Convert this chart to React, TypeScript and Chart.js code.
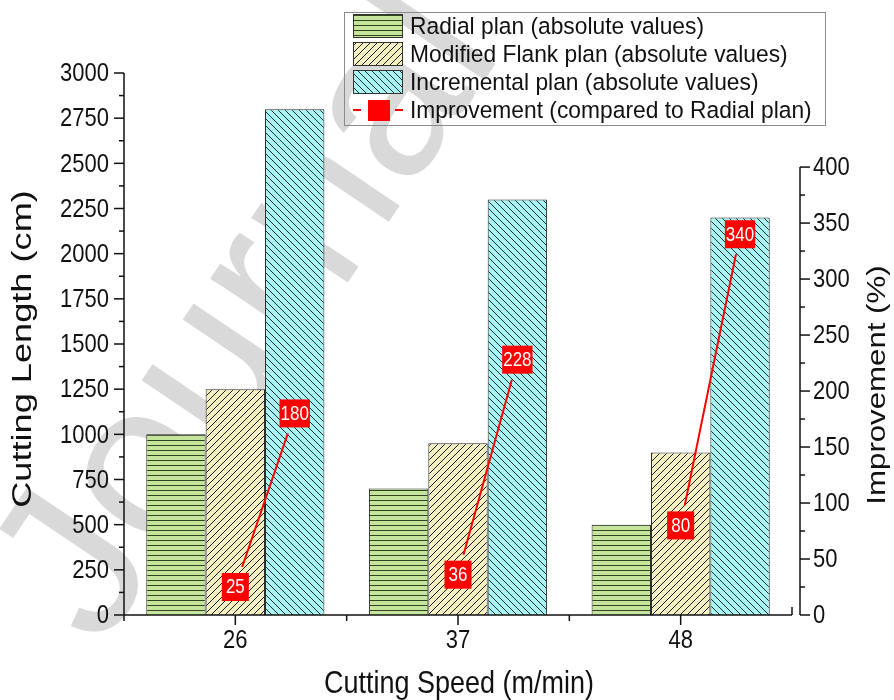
import React, { useEffect, useRef } from 'react';
import { Chart, registerables } from 'chart.js';

Chart.register(...registerables);

// ---------- data ----------
const speeds = [26, 37, 48];
const radial = [1000, 700, 500];
const modifiedFlank = [1250, 950, 900];
const incremental = [2800, 2300, 2200];
const improvementAtFlank = [25, 36, 80];
const improvementAtIncremental = [180, 228, 340];

const leftTicks = [0, 250, 500, 750, 1000, 1250, 1500, 1750, 2000, 2250, 2500, 2750, 3000];
const rightTicks = [0, 50, 100, 150, 200, 250, 300, 350, 400];

const seriesNames = [
  'Radial plan (absolute values)',
  'Modified Flank plan (absolute values)',
  'Incremental plan (absolute values)',
  'Improvement (compared to Radial plan)',
];
const xTitle = 'Cutting Speed (m/min)';
const yTitle = 'Cutting Length (cm)';
const y2Title = 'Improvement (%)';
const watermark = 'Journal Pre-proof';

const FONT = "'Liberation Sans', Arial, Helvetica, sans-serif";
const CAT_PCT = 0.8;

function makePattern(kind: 'h' | 'f' | 'b', bg: string, fg: string): CanvasPattern | string {
  const s = kind === 'h' ? 5 : 7;
  const c = document.createElement('canvas');
  c.width = s;
  c.height = s;
  const g = c.getContext('2d');
  if (!g) return bg;
  g.fillStyle = bg;
  g.fillRect(0, 0, s, s);
  g.strokeStyle = fg;
  g.lineWidth = 1;
  g.beginPath();
  if (kind === 'h') {
    g.moveTo(0, 0.5);
    g.lineTo(s, 0.5);
  } else if (kind === 'f') {
    g.moveTo(-1, s + 1);
    g.lineTo(s + 1, -1);
    g.moveTo(-1, 1);
    g.lineTo(1, -1);
    g.moveTo(s - 1, s + 1);
    g.lineTo(s + 1, s - 1);
  } else {
    g.moveTo(-1, -1);
    g.lineTo(s + 1, s + 1);
    g.moveTo(-1, s - 1);
    g.lineTo(1, s + 1);
    g.moveTo(s - 1, -1);
    g.lineTo(s + 1, 1);
  }
  g.stroke();
  const p = g.createPattern(c, 'repeat');
  return p || bg;
}

function drawText(
  ctx: CanvasRenderingContext2D,
  text: string,
  x: number,
  y: number,
  sx: number,
  sy: number,
  rot = 0
) {
  ctx.save();
  ctx.translate(x, y);
  if (rot) ctx.rotate(rot);
  ctx.scale(sx, sy);
  ctx.fillText(text, 0, 0);
  ctx.restore();
}

export default function App() {
  const ref = useRef<HTMLCanvasElement | null>(null);

  useEffect(() => {
    document.body.style.margin = '0';
    const canvas = ref.current;
    if (!canvas) return;

    const greenPat = makePattern('h', '#c6e59c', '#34431f');
    const yellowPat = makePattern('f', '#f4f0c0', '#1e1e1e');
    const cyanPat = makePattern('b', '#a8f5f5', '#1a2e2e');

    const step = speeds[1] - speeds[0];
    const slot = (step * CAT_PCT) / 3;
    const linePoints: { x: number; y: number | null }[] = [];
    speeds.forEach((s, i) => {
      linePoints.push({ x: s, y: improvementAtFlank[i] });
      linePoints.push({ x: s + slot, y: improvementAtIncremental[i] });
      if (i < speeds.length - 1) linePoints.push({ x: s + step / 2, y: null });
    });
    const lineLabels: number[] = [];
    speeds.forEach((_, i) => {
      lineLabels.push(improvementAtFlank[i], improvementAtIncremental[i]);
    });

    const LINE_INDEX = 3;
    const TEXT_SY = 1.2;

    const watermarkPlugin = {
      id: 'watermark',
      beforeDraw(chart: any) {
        const ctx = chart.ctx;
        ctx.save();
        ctx.translate(100, 650);
        ctx.rotate((-56 * Math.PI) / 180);
        ctx.font = `220px ${FONT}`;
        ctx.fillStyle = '#d9d9d9';
        ctx.textBaseline = 'alphabetic';
        ctx.fillText(watermark, 0, 0);
        ctx.restore();
      },
    };

    const lineGapPlugin = {
      id: 'lineGap',
      beforeDatasetDraw(chart: any, args: any) {
        if (args.index !== LINE_INDEX) return;
        const ctx = chart.ctx;
        ctx.save();
        ctx.beginPath();
        ctx.rect(0, 0, chart.width, chart.height);
        args.meta.data.forEach((pt: any, i: number) => {
          if (linePoints[i].y === null) return;
          ctx.rect(pt.x - 18, pt.y - 20, 36, 40);
        });
        ctx.clip('evenodd');
      },
      afterDatasetDraw(chart: any, args: any) {
        if (args.index !== LINE_INDEX) return;
        chart.ctx.restore();
      },
      afterDatasetsDraw(chart: any) {
        const ctx = chart.ctx;
        const meta = chart.getDatasetMeta(LINE_INDEX);
        ctx.save();
        ctx.font = `17px ${FONT}`;
        ctx.textAlign = 'center';
        ctx.textBaseline = 'middle';
        let k = 0;
        meta.data.forEach((pt: any, i: number) => {
          if (linePoints[i].y === null) return;
          const txt = String(lineLabels[k++]);
          const w = Math.max(27, ctx.measureText(txt).width + 2);
          const h = 28;
          ctx.fillStyle = '#ff0000';
          ctx.fillRect(pt.x - w / 2, pt.y - h / 2, w, h);
          ctx.fillStyle = '#ffffff';
          drawText(ctx, txt, pt.x, pt.y + 1, 1, 1.15);
        });
        ctx.restore();
      },
    };

    const axesPlugin = {
      id: 'axesDraw',
      afterDraw(chart: any) {
        const { ctx, chartArea: ca, scales } = chart;
        const xs = scales.x;
        const ys = scales.y;
        const y2 = scales.y2;
        ctx.save();
        ctx.strokeStyle = '#111';
        ctx.fillStyle = '#111';
        ctx.lineWidth = 1.5;
        ctx.lineCap = 'butt';

        const line = (x1: number, y1: number, x2: number, y2p: number) => {
          ctx.beginPath();
          ctx.moveTo(x1, y1);
          ctx.lineTo(x2, y2p);
          ctx.stroke();
        };

        // left axis
        const yTop = ys.getPixelForValue(leftTicks[leftTicks.length - 1]);
        line(ca.left, yTop, ca.left, ca.bottom);
        ctx.font = `22px ${FONT}`;
        ctx.textAlign = 'right';
        ctx.textBaseline = 'middle';
        leftTicks.forEach((v, i) => {
          const py = ys.getPixelForValue(v);
          line(ca.left - 10, py, ca.left, py);
          drawText(ctx, String(v), ca.left - 15, py + 1, 1, TEXT_SY);
          if (i < leftTicks.length - 1) {
            const mv = (v + leftTicks[i + 1]) / 2;
            const my = ys.getPixelForValue(mv);
            line(ca.left - 5, my, ca.left, my);
          }
        });

        // bottom axis
        line(ca.left, ca.bottom, ca.right, ca.bottom);
        ctx.textAlign = 'center';
        ctx.textBaseline = 'middle';
        speeds.forEach((s, i) => {
          const px = xs.getPixelForValue(s);
          line(px, ca.bottom, px, ca.bottom + 10);
          drawText(ctx, String(s), px, ca.bottom + 26, 1, TEXT_SY);
          if (i < speeds.length - 1) {
            const mx = xs.getPixelForValue((s + speeds[i + 1]) / 2);
            line(mx, ca.bottom, mx, ca.bottom + 6);
          }
        });
        line(ca.left, ca.bottom, ca.left, ca.bottom + 6);
        line(ca.right, ca.bottom, ca.right, ca.bottom - 8);

        // right axis
        const rx = ca.right + 8;
        const rTop = y2.getPixelForValue(rightTicks[rightTicks.length - 1]);
        const rBot = y2.getPixelForValue(0);
        line(rx, rTop, rx, rBot);
        ctx.textAlign = 'left';
        rightTicks.forEach((v, i) => {
          const py = y2.getPixelForValue(v);
          line(rx, py, rx + 10, py);
          drawText(ctx, String(v), rx + 13, py + 1, 1, TEXT_SY);
          if (i < rightTicks.length - 1) {
            const my = y2.getPixelForValue((v + rightTicks[i + 1]) / 2);
            line(rx, my, rx + 5, my);
          }
        });

        // titles
        ctx.font = `27px ${FONT}`;
        ctx.textAlign = 'center';
        ctx.textBaseline = 'middle';
        drawText(ctx, xTitle, (ca.left + ca.right) / 2 + 1, 684, 1, 1.15);
        drawText(ctx, yTitle, 24, 349, 1.34, 1, -Math.PI / 2);
        ctx.font = `26px ${FONT}`;
        drawText(ctx, y2Title, 878, 385, 1.2, 1, -Math.PI / 2);

        // legend
        const lx = 344, ly = 12, lw = 481, lh = 113;
        ctx.lineWidth = 1;
        ctx.strokeStyle = '#8a8a8a';
        ctx.strokeRect(lx + 0.5, ly + 0.5, lw, lh);
        const fills = [greenPat, yellowPat, cyanPat];
        ctx.font = `22.8px ${FONT}`;
        ctx.textAlign = 'left';
        ctx.textBaseline = 'middle';
        seriesNames.forEach((name, i) => {
          const cy = ly + 14 + i * 28;
          if (i < 3) {
            ctx.fillStyle = fills[i] as any;
            ctx.fillRect(lx + 9, cy - 12, 50, 24);
            ctx.strokeStyle = '#333';
            ctx.strokeRect(lx + 9.5, cy - 11.5, 49, 23);
          } else {
            ctx.strokeStyle = '#ff0000';
            ctx.lineWidth = 2;
            line(lx + 9, cy, lx + 17, cy);
            line(lx + 51, cy, lx + 59, cy);
            ctx.fillStyle = '#ff0000';
            ctx.fillRect(lx + 24, cy - 10, 22, 21);
            ctx.lineWidth = 1;
          }
          ctx.fillStyle = '#111';
          drawText(ctx, name, lx + 66, cy + 1, 1, 1.05);
        });
        ctx.restore();
      },
    };

    const chart = new Chart(canvas, {
      type: 'bar',
      data: {
        datasets: [
          {
            type: 'bar',
            label: seriesNames[0],
            data: speeds.map((s, i) => ({ x: s, y: radial[i] })),
            backgroundColor: greenPat as any,
            borderColor: '#2a2a2a',
            borderWidth: 1,
            order: 1,
          },
          {
            type: 'bar',
            label: seriesNames[1],
            data: speeds.map((s, i) => ({ x: s, y: modifiedFlank[i] })),
            backgroundColor: yellowPat as any,
            borderColor: '#2a2a2a',
            borderWidth: 1,
            order: 1,
          },
          {
            type: 'bar',
            label: seriesNames[2],
            data: speeds.map((s, i) => ({ x: s, y: incremental[i] })),
            backgroundColor: cyanPat as any,
            borderColor: '#2a2a2a',
            borderWidth: 1,
            order: 1,
          },
          {
            type: 'line',
            label: seriesNames[3],
            data: linePoints as any,
            yAxisID: 'y2',
            borderColor: '#ff0000',
            borderWidth: 2,
            pointRadius: 0,
            spanGaps: false,
            order: 0,
          } as any,
        ],
      },
      options: {
        responsive: false,
        animation: false,
        devicePixelRatio: 1,
        layout: { padding: { left: 124, top: 73, right: 102, bottom: 85 } },
        datasets: { bar: { categoryPercentage: CAT_PCT, barPercentage: 1 } },
        plugins: { legend: { display: false }, tooltip: { enabled: false } },
        scales: {
          x: {
            type: 'linear',
            display: false,
            offset: false,
            min: 20.5,
            max: 53.5,
            afterBuildTicks: (scale: any) => {
              scale.ticks = speeds.map((v) => ({ value: v }));
            },
          },
          y: { type: 'linear', display: false, min: 0, max: 3000 },
          y2: { type: 'linear', display: false, min: 0, max: 484, position: 'right' },
        },
      } as any,
      plugins: [watermarkPlugin, lineGapPlugin, axesPlugin],
    });

    return () => chart.destroy();
  }, []);

  return (
    <div style={{ width: 894, height: 700, position: 'relative', background: '#fff' }}>
      <canvas ref={ref} width={894} height={700} />
    </div>
  );
}
